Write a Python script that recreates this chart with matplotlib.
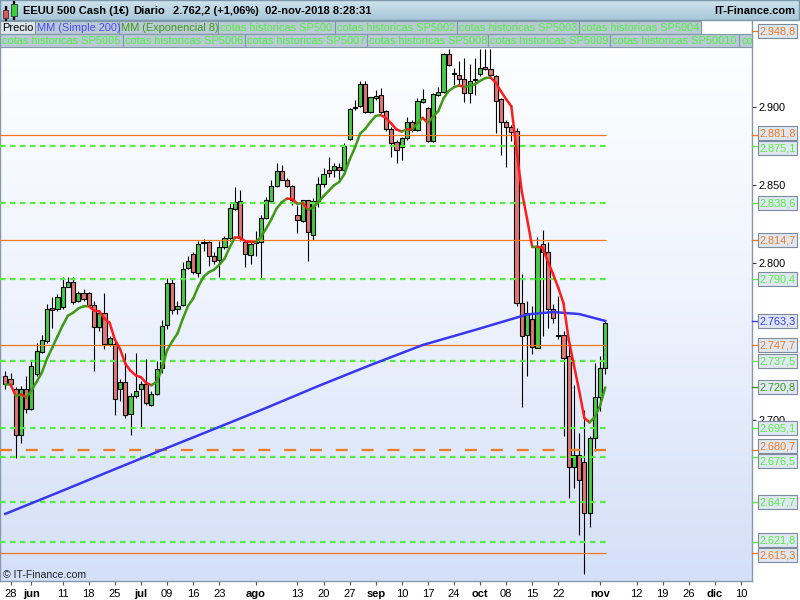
import numpy as np
import pandas as pd
import matplotlib
matplotlib.use("Agg")
import matplotlib.pyplot as plt
from matplotlib.patches import Rectangle
from matplotlib.collections import LineCollection
from matplotlib.colors import LinearSegmentedColormap
from matplotlib.transforms import Affine2D

plt.rcParams['font.family'] = ['Liberation Sans', 'DejaVu Sans']
plt.rcParams['lines.scale_dashes'] = False

# Sesiones (dias laborables), primera vela 25-may-2018
dias = pd.bdate_range('2018-05-25', '2018-12-14')

# Velas diarias EEUU 500 Cash
apertura = [2728.0, 2726.5, 2719.5, 2690.6, 2720.1, 2707.3, 2729.1, 2743.6, 2750.2, 2771.5,
            2770.8, 2771.9, 2785.1, 2788.3, 2776.1, 2781.1, 2781.1, 2773.3, 2759.7, 2768.2,
            2748.3, 2748.3, 2720.1, 2724.2, 2704.0, 2715.6, 2719.5, 2723.3, 2709.8, 2716.9,
            2733.0, 2761.0, 2787.5, 2770.8, 2773.3, 2796.9, 2806.1, 2793.9, 2814.0, 2814.0,
            2805.0, 2802.4, 2810.3, 2816.1, 2834.9, 2839.9, 2814.0, 2805.4, 2813.5, 2814.0,
            2829.2, 2839.9, 2849.3, 2858.9, 2853.6, 2849.3, 2831.3, 2827.0, 2840.3, 2818.0,
            2840.0, 2851.0, 2860.0, 2859.6, 2861.7, 2859.6, 2879.3, 2899.2, 2900.6, 2914.6,
            2897.0, 2905.6, 2907.7, 2897.4, 2885.7, 2877.8, 2874.6, 2879.9, 2890.6, 2885.2,
            2903.4, 2899.2, 2878.2, 2907.7, 2909.8, 2933.8, 2921.5, 2920.3, 2917.8, 2908.8,
            2917.5, 2921.0, 2925.5, 2924.2, 2919.5, 2904.9, 2890.2, 2887.4, 2884.6, 2775.0,
            2754.1, 2764.3, 2746.2, 2812.5, 2807.2, 2770.8, 2754.0, 2754.0, 2740.8, 2670.2,
            2677.7, 2673.4, 2640.3, 2688.5, 2714.5, 2733.5]
maximo = [2731.6, 2730.1, 2721.0, 2721.6, 2728.0, 2737.6, 2749.4, 2754.3, 2774.4, 2778.3,
          2780.4, 2791.1, 2791.5, 2791.5, 2782.5, 2783.6, 2781.5, 2776.1, 2769.7, 2781.1,
          2753.7, 2750.5, 2725.9, 2743.0, 2717.3, 2742.6, 2724.8, 2739.1, 2718.4, 2737.6,
          2764.0, 2790.7, 2790.0, 2776.1, 2800.7, 2805.0, 2807.1, 2814.6, 2815.7, 2814.6,
          2807.1, 2814.6, 2817.8, 2839.2, 2848.9, 2846.7, 2814.6, 2813.6, 2821.0, 2830.7,
          2842.4, 2853.6, 2864.3, 2862.8, 2854.9, 2849.9, 2837.1, 2840.7, 2840.7, 2842.0,
          2855.0, 2861.0, 2868.1, 2864.0, 2864.0, 2876.7, 2899.2, 2904.5, 2916.9, 2916.3,
          2906.6, 2910.9, 2912.4, 2898.0, 2887.4, 2878.8, 2881.0, 2893.8, 2891.7, 2905.6,
          2911.3, 2900.2, 2908.8, 2913.0, 2934.4, 2937.0, 2924.8, 2929.1, 2931.2, 2927.6,
          2931.2, 2937.0, 2937.0, 2937.0, 2920.5, 2906.0, 2892.0, 2888.5, 2886.3, 2793.3,
          2776.0, 2773.0, 2816.8, 2821.5, 2813.6, 2774.0, 2779.4, 2757.0, 2748.3, 2722.6,
          2691.6, 2706.6, 2689.9, 2736.5, 2740.8, 2763.7]
minimo = [2719.5, 2721.0, 2675.6, 2685.2, 2704.5, 2706.6, 2728.0, 2743.0, 2749.4, 2759.0,
          2769.7, 2771.2, 2784.7, 2774.0, 2775.1, 2776.1, 2771.9, 2731.2, 2756.9, 2745.1,
          2747.3, 2703.4, 2712.0, 2701.3, 2690.1, 2714.1, 2695.5, 2709.8, 2708.8, 2716.2,
          2730.0, 2758.0, 2768.0, 2767.6, 2772.9, 2796.4, 2793.2, 2791.1, 2808.2, 2798.6,
          2799.7, 2791.1, 2809.3, 2814.6, 2833.9, 2814.6, 2797.5, 2799.7, 2805.0, 2790.5,
          2828.5, 2839.2, 2848.9, 2853.1, 2848.9, 2837.1, 2819.3, 2826.4, 2801.4, 2815.0,
          2836.0, 2849.0, 2855.0, 2855.0, 2853.0, 2858.5, 2878.8, 2898.0, 2900.2, 2896.4,
          2896.4, 2904.5, 2896.4, 2884.8, 2868.1, 2863.9, 2866.4, 2878.8, 2884.2, 2884.8,
          2902.8, 2877.8, 2877.8, 2907.1, 2908.8, 2926.3, 2914.1, 2914.1, 2903.4, 2902.4,
          2907.7, 2919.9, 2923.7, 2919.5, 2883.5, 2869.2, 2861.7, 2878.0, 2773.0, 2708.1,
          2728.0, 2741.9, 2745.7, 2753.6, 2759.0, 2762.0, 2752.0, 2689.5, 2649.9, 2656.3,
          2626.4, 2601.8, 2631.7, 2679.9, 2705.5, 2729.1]
cierre = [2722.7, 2722.7, 2690.1, 2719.5, 2707.3, 2734.2, 2744.0, 2750.9, 2770.8, 2770.5,
          2778.7, 2785.1, 2788.3, 2775.1, 2781.1, 2777.2, 2773.3, 2759.7, 2768.2, 2748.3,
          2752.6, 2713.7, 2724.2, 2703.4, 2715.6, 2718.2, 2723.3, 2710.9, 2716.9, 2732.3,
          2760.0, 2787.5, 2770.1, 2772.9, 2796.4, 2801.8, 2794.3, 2812.5, 2813.3, 2804.6,
          2801.4, 2810.3, 2816.3, 2835.6, 2839.2, 2816.0, 2806.1, 2812.5, 2812.9, 2829.2,
          2840.7, 2849.3, 2858.9, 2853.6, 2849.3, 2840.3, 2827.5, 2840.3, 2820.0, 2840.0,
          2851.0, 2857.0, 2858.0, 2862.4, 2859.6, 2875.0, 2898.5, 2900.2, 2914.6, 2897.0,
          2906.2, 2907.3, 2897.0, 2885.7, 2877.3, 2872.4, 2879.9, 2890.6, 2885.2, 2904.1,
          2904.9, 2878.2, 2908.1, 2909.8, 2933.8, 2927.0, 2921.0, 2917.8, 2908.8, 2916.9,
          2917.3, 2924.8, 2924.6, 2920.3, 2904.1, 2890.6, 2887.4, 2884.2, 2774.7, 2753.6,
          2768.6, 2746.6, 2811.4, 2807.2, 2770.8, 2765.4, 2753.6, 2739.7, 2670.2, 2677.7,
          2661.7, 2640.3, 2688.5, 2714.5, 2733.5, 2762.2]

# MM (Simple 200), leida cada 10 sesiones
mm200_sesion = [0, 10, 20, 30, 40, 50, 60, 70, 80, 90, 100, 105, 110, 115]
mm200 = [2640.0, 2653.5, 2667.2, 2680.8, 2694.2, 2707.7, 2721.7, 2735.1, 2747.9,
         2757.5, 2767.4, 2769.0, 2767.7, 2763.3]

# cotas historicas SP500
cotas_naranja = [2948.8, 2881.8, 2814.7, 2747.7, 2615.3]
cota_naranja_disc = 2680.7
cotas_verde = [2875.1, 2838.6, 2790.4, 2737.5, 2695.1, 2676.5, 2647.7, 2621.8]

# Eje de fechas
fechas_eje = ['2018-05-28', '2018-06-01', '2018-06-11', '2018-06-18', '2018-06-25',
              '2018-07-02', '2018-07-09', '2018-07-16', '2018-07-23', '2018-08-01',
              '2018-08-13', '2018-08-20', '2018-08-27', '2018-09-03', '2018-09-10',
              '2018-09-17', '2018-09-24', '2018-10-01', '2018-10-08', '2018-10-15',
              '2018-10-22', '2018-11-01', '2018-11-12', '2018-11-19', '2018-11-26',
              '2018-12-03', '2018-12-10']
etiquetas_eje = ['28', 'jun', '11', '18', '25', 'jul', '09', '16', '23', 'ago', '13', '20',
                 '27', 'sep', '10', '17', '24', 'oct', '08', '15', '22', 'nov', '12', '19',
                 '26', 'dic', '10']
meses = ['jun', 'jul', 'ago', 'sep', 'oct', 'nov', 'dic']

NARANJA = '#f07a22'
VERDE = '#55ee40'
AZUL = '#3838f2'
VERDE_MM = '#3f9a16'
ROJO_MM = '#ff1c1c'


def es_num(v):
    s = f"{v:,.1f}"
    return s.replace(',', 'X').replace('.', ',').replace('X', '.')


fig = plt.figure(figsize=(8, 6), dpi=100)
# coordenadas en pixeles desde arriba a la izquierda
px = Affine2D().scale(1 / 800, -1 / 600).translate(0, 1) + fig.transFigure

ax = fig.add_axes([0, 19 / 600, 752 / 800, 561 / 600])

# fondo degradado
grad = np.linspace(0, 1, 256).reshape(-1, 1)
fondo = LinearSegmentedColormap.from_list('fondo', ['#d4e0f8', '#eef3fd', '#ffffff'])
ax.imshow(grad, extent=[0, 1, 0, 1], transform=ax.transAxes, aspect='auto',
          cmap=fondo, origin='lower', zorder=0)

x = np.arange(len(cierre))
o = np.array(apertura)
h = np.array(maximo)
l = np.array(minimo)
c = np.array(cierre)
sube = c >= o

# velas
ax.vlines(x, l, h, color='black', lw=0.8, zorder=2)
ax.bar(x, np.maximum(np.abs(c - o), 0.4), bottom=np.minimum(o, c), width=0.8,
       color=np.where(sube, '#46cc46', '#e27676'), edgecolor='black', linewidth=0.8, zorder=3)

# cotas
fin = len(cierre) - 1 + 0.2
for v in cotas_naranja:
    ax.hlines(v, -1.1, fin, colors=NARANJA, lw=0.9, zorder=4)
ax.hlines(cota_naranja_disc, -1.1, fin, colors=NARANJA, lw=1.6,
          linestyles=[(0, (8.6, 10.0))], zorder=4)
for v in cotas_verde:
    ax.hlines(v, -1.1, fin, colors=VERDE, lw=1.6, linestyles=[(0, (4.0, 3.2))], zorder=4)

# MM simple 200
ax.plot(mm200_sesion, mm200, color=AZUL, lw=1.8, zorder=5)

# MM exponencial 8, verde si sube y rojo si baja
ema = [cierre[0]]
for v in cierre[1:]:
    ema.append(ema[-1] + 2 / 9 * (v - ema[-1]))
seg = [[(i - 1, ema[i - 1]), (i, ema[i])] for i in range(1, len(ema))]
col = [VERDE_MM if ema[i] >= ema[i - 1] else ROJO_MM for i in range(1, len(ema))]
ax.add_collection(LineCollection(seg, colors=col, linewidths=1.8, zorder=6,
                                 capstyle='round', joinstyle='round'))

ax.set_xlim(-1.02, 143.13)
ax.set_ylim(2597.1, 2955.6)

# eje de precios a la derecha (las demas marcas quedan tapadas por las cotas)
ax.yaxis.tick_right()
yt = [2700, 2800, 2850, 2900]
ax.set_yticks(yt)
ax.set_yticklabels([f"{v // 1000}.{v % 1000:03d}" for v in yt])
ax.tick_params(axis='y', direction='out', length=3, width=0.8, color='#333333',
               labelsize=7.8, pad=1.5)

pos = [dias.get_loc(pd.Timestamp(d)) for d in fechas_eje]
ax.set_xticks(pos)
ax.set_xticklabels(etiquetas_eje)
ax.tick_params(axis='x', direction='out', length=3, width=0.8, color='#555555',
               labelsize=8, pad=3)
for lab in ax.get_xticklabels():
    if lab.get_text() in meses:
        lab.set_fontweight('bold')

for s in ['left', 'bottom', 'right']:
    ax.spines[s].set_color('#8798ac')
    ax.spines[s].set_linewidth(1.0)
ax.spines['top'].set_visible(False)

fig.text(3, 575, '\u00a9 IT-Finance.com', transform=px, fontsize=7.6, va='center',
         color='#222222')

# cabecera
cab = fig.add_axes([0, 1 - 20 / 600, 1, 20 / 600])
cab.imshow(grad, aspect='auto', origin='lower',
           cmap=LinearSegmentedColormap.from_list('cab', ['#a6c6d8', '#d0e5ef']))
cab.set_axis_off()
fig.add_artist(Rectangle((0, 0), 799, 20, transform=px, fill=False,
                         edgecolor='#7c98aa', lw=1, zorder=5))
# icono de velas
fig.add_artist(Rectangle((5, 6), 0.8, 14, transform=px, color='black', zorder=6))
fig.add_artist(Rectangle((3, 10), 5, 8, transform=px, facecolor='#e05555',
                         edgecolor='#333333', lw=0.6, zorder=7))
fig.add_artist(Rectangle((13.2, 1), 0.8, 18, transform=px, color='black', zorder=6))
fig.add_artist(Rectangle((11, 3.5), 5.5, 12.5, transform=px, facecolor='#3ccf3c',
                         edgecolor='#333333', lw=0.6, zorder=7))

for txt, xx in [('EEUU 500 Cash (1\u20ac)', 23), ('Diario', 133),
                ('2.762,2 (+1,06%)', 173), ('02-nov-2018 8:28:31', 265)]:
    fig.text(xx, 11, txt, transform=px, fontsize=8, fontweight='bold', va='center')
fig.text(795, 11, 'IT-Finance.com', transform=px, fontsize=8, fontweight='bold',
         va='center', ha='right')

# leyenda
fila1 = [('Precio', 0, 35, 'black'), ('MM (Simple 200)', 35, 119, '#4b4bff'),
         ('MM (Exponencial 8)', 119, 218, VERDE_MM),
         ('cotas historicas SP500', 218, 335, VERDE),
         ('cotas historicas SP5002', 335, 457, VERDE),
         ('cotas historicas SP5003', 457, 579, VERDE),
         ('cotas historicas SP5004', 579, 701, VERDE)]
fila2 = [('cotas historicas SP5005', 0, 123, VERDE),
         ('cotas historicas SP5006', 123, 245, VERDE),
         ('cotas historicas SP5007', 245, 367, VERDE),
         ('cotas historicas SP5008', 367, 488, VERDE),
         ('cotas historicas SP5009', 488, 610, VERDE),
         ('cotas historicas SP50010', 610, 739, VERDE),
         ('co', 739, 752, VERDE)]
for fila, y0 in [(fila1, 21), (fila2, 34)]:
    for txt, a, b, cl in fila:
        cara = '#dde6ec' if txt == 'Precio' else '#b9c9d5'
        fig.add_artist(Rectangle((a, y0), b - a, 13, transform=px, facecolor=cara,
                                 edgecolor='#8299aa', lw=0.8, zorder=5))
        fig.text(a + 2, y0 + 6.8, txt, transform=px, fontsize=7.9, color=cl,
                 va='center', zorder=6)

# etiquetas de valores a la derecha
marcas = [(v, NARANJA) for v in cotas_naranja] + [(cota_naranja_disc, NARANJA)]
marcas += [(v, VERDE) for v in cotas_verde]
marcas += [(mm200[-1], AZUL), (ema[-1], VERDE_MM)]
marcas.sort(key=lambda m: -m[0])
ys = [600 - ax.transData.transform((0, v))[1] for v, _ in marcas]
yb = list(ys)
for _ in range(50):
    for k in range(len(yb) - 1):
        d = yb[k + 1] - yb[k]
        if d < 15:
            yb[k] -= (15 - d) / 2
            yb[k + 1] += (15 - d) / 2
for (v, cl), yv, yy in zip(marcas, ys, yb):
    fig.add_artist(plt.Line2D([752, 757], [yv, yv], transform=px, color=cl, lw=1, zorder=5))
    fig.add_artist(Rectangle((758, yy - 7), 39, 14, transform=px, facecolor='#dfe7f3',
                             edgecolor='#7d8c9c', lw=0.8, zorder=6))
    fig.text(760, yy + 0.5, es_num(v), transform=px, fontsize=7.8, color=cl,
             va='center', zorder=7)

fig.savefig('out.png', dpi=100)
